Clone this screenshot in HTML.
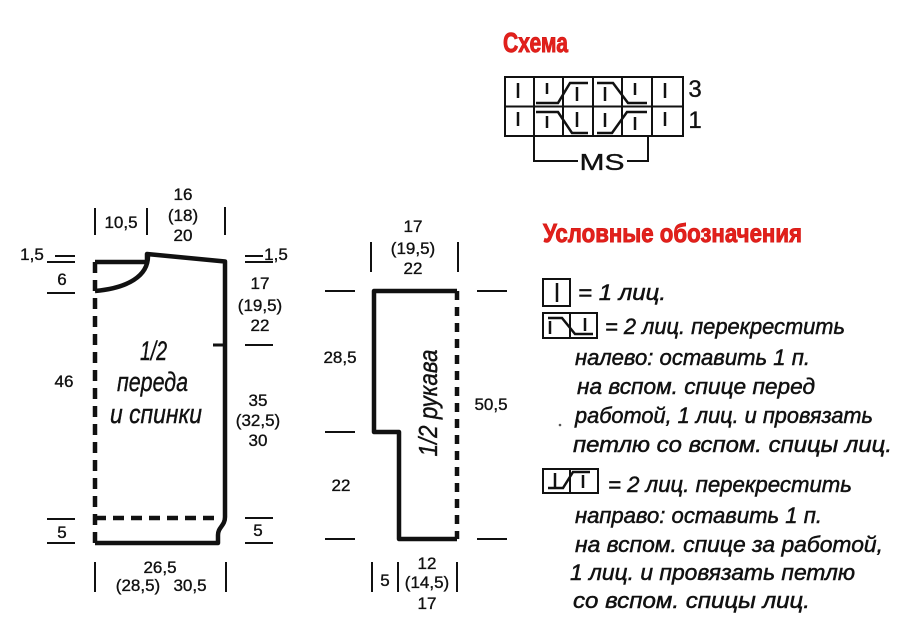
<!DOCTYPE html>
<html>
<head>
<meta charset="utf-8">
<style>
html,body{margin:0;padding:0;background:#fff;}
svg{display:block;}
.n{font-family:"Liberation Sans","DejaVu Sans",sans-serif;font-size:17px;fill:#111;text-anchor:middle;stroke:#111;stroke-width:0.35px;}
.it{font-family:"Liberation Sans","DejaVu Sans",sans-serif;font-style:italic;fill:#111;stroke:#111;stroke-width:0.4px;}
.lg{font-family:"Liberation Sans","DejaVu Sans",sans-serif;font-style:italic;font-size:22.5px;fill:#111;stroke:#111;stroke-width:0.5px;}
.t{font-family:"Liberation Sans","DejaVu Sans",sans-serif;font-weight:bold;fill:#e3211c;stroke:#d81c18;stroke-width:0.9px;}
</style>
</head>
<body>
<svg width="910" height="632" viewBox="0 0 910 632" xmlns="http://www.w3.org/2000/svg">
<rect width="910" height="632" fill="#fff"/>

<!-- ===== Chart ===== -->
<text class="t" x="503" y="52" font-size="28" textLength="65" lengthAdjust="spacingAndGlyphs">Схема</text>
<g stroke="#111" stroke-width="2" fill="none">
  <rect x="505" y="77" width="178" height="59"/>
  <line x1="505" y1="106.5" x2="683" y2="106.5"/>
  <line x1="534" y1="77" x2="534" y2="136"/>
  <line x1="563" y1="77" x2="563" y2="136"/>
  <line x1="593" y1="77" x2="593" y2="136"/>
  <line x1="622" y1="77" x2="622" y2="136"/>
  <line x1="652" y1="77" x2="652" y2="136"/>
</g>
<g stroke="#111" stroke-width="2.5" fill="none">
  <!-- top row -->
  <line x1="518" y1="83" x2="518" y2="98"/>
  <line x1="547" y1="83" x2="547" y2="94"/>
  <polyline points="536,103 558,103 570,83 588,83"/>
  <line x1="577" y1="87" x2="577" y2="101"/>
  <polyline points="597,83 613,83 628,103 647,103"/>
  <line x1="605" y1="87" x2="605" y2="101"/>
  <line x1="635" y1="83" x2="635" y2="95"/>
  <line x1="665" y1="83" x2="665" y2="98"/>
  <!-- bottom row -->
  <line x1="518" y1="112" x2="518" y2="126"/>
  <polyline points="536,112 558,112 572,133 588,133"/>
  <line x1="547" y1="116" x2="547" y2="128"/>
  <line x1="577" y1="112" x2="577" y2="127"/>
  <polyline points="597,133 612,133 627,112 647,112"/>
  <line x1="605" y1="113" x2="605" y2="127"/>
  <line x1="635" y1="117" x2="635" y2="130"/>
  <line x1="665" y1="112" x2="665" y2="126"/>
  <!-- MS bracket -->
  <polyline points="534,136 534,161 578,161" stroke-width="2"/>
  <polyline points="627,161 648,161 648,136" stroke-width="2"/>
</g>
<text class="n" x="602" y="170" style="font-size:23px" textLength="45" lengthAdjust="spacingAndGlyphs">MS</text>
<text class="n" x="695" y="97" style="font-size:24px">3</text>
<text class="n" x="695" y="128" style="font-size:24px">1</text>

<!-- ===== Front/back piece ===== -->
<g stroke="#111" stroke-width="4.5" fill="none" stroke-linejoin="round">
  <path d="M95,262 H147 V254 L225,261.5 V517 C225,526 218,527 218,535 V543 H95"/>
  <path d="M148,256 C148,276 128,288 95,291"/>
  <path d="M95,262 V543" stroke-dasharray="11 7"/>
  <path d="M95,518 H218" stroke-dasharray="11 7"/>
  <line x1="213" y1="345" x2="225" y2="345" stroke-width="3"/>
</g>
<g stroke="#111" stroke-width="2" fill="none">
  <line x1="95" y1="208" x2="95" y2="235"/>
  <line x1="147" y1="208" x2="147" y2="235"/>
  <line x1="225" y1="207" x2="225" y2="235"/>
  <line x1="55" y1="256" x2="75" y2="256"/>
  <line x1="47" y1="262" x2="75" y2="262"/>
  <line x1="47" y1="293" x2="75" y2="293"/>
  <line x1="245" y1="256" x2="263" y2="256"/>
  <line x1="245" y1="262" x2="273" y2="262"/>
  <line x1="245" y1="345" x2="273" y2="345"/>
  <line x1="47" y1="519" x2="75" y2="519"/>
  <line x1="47" y1="543" x2="75" y2="543"/>
  <line x1="245" y1="518" x2="273" y2="518"/>
  <line x1="245" y1="543" x2="273" y2="543"/>
  <line x1="95" y1="562" x2="95" y2="592"/>
  <line x1="226" y1="562" x2="226" y2="592"/>
</g>
<text class="n" x="183" y="200">16</text>
<text class="n" x="183" y="221">(18)</text>
<text class="n" x="183" y="241">20</text>
<text class="n" x="121" y="228">10,5</text>
<text class="n" x="32" y="260">1,5</text>
<text class="n" x="62" y="285">6</text>
<text class="n" x="276" y="260">1,5</text>
<text class="n" x="260" y="289">17</text>
<text class="n" x="260" y="311">(19,5)</text>
<text class="n" x="260" y="331">22</text>
<text class="n" x="64" y="387">46</text>
<text class="n" x="258" y="406">35</text>
<text class="n" x="258" y="426">(32,5)</text>
<text class="n" x="258" y="446">30</text>
<text class="n" x="62" y="538">5</text>
<text class="n" x="258" y="536">5</text>
<text class="n" x="160" y="573">26,5</text>
<text class="n" x="138" y="591">(28,5)</text>
<text class="n" x="190" y="591">30,5</text>
<text class="it" x="140" y="360" font-size="27" textLength="27" lengthAdjust="spacingAndGlyphs">1/2</text>
<text class="it" x="117" y="391" font-size="27" textLength="71" lengthAdjust="spacingAndGlyphs">переда</text>
<text class="it" x="110" y="423" font-size="27" textLength="92" lengthAdjust="spacingAndGlyphs">и спинки</text>

<!-- ===== Sleeve ===== -->
<g stroke="#111" stroke-width="4.5" fill="none" stroke-linejoin="round">
  <path d="M457,291 H374 V432 H399 V539 H457"/>
  <path d="M457,291 V539" stroke-dasharray="9 7"/>
</g>
<g stroke="#111" stroke-width="2" fill="none">
  <line x1="371" y1="242" x2="371" y2="272"/>
  <line x1="458" y1="242" x2="458" y2="272"/>
  <line x1="325" y1="291" x2="355" y2="291"/>
  <line x1="477" y1="291" x2="507" y2="291"/>
  <line x1="325" y1="432" x2="355" y2="432"/>
  <line x1="325" y1="539" x2="355" y2="539"/>
  <line x1="477" y1="539" x2="507" y2="539"/>
  <line x1="372" y1="562" x2="372" y2="592"/>
  <line x1="398" y1="562" x2="398" y2="592"/>
  <line x1="457" y1="562" x2="457" y2="592"/>
</g>
<text class="n" x="413" y="232">17</text>
<text class="n" x="413" y="254">(19,5)</text>
<text class="n" x="413" y="274">22</text>
<text class="n" x="340" y="363">28,5</text>
<text class="n" x="341" y="491">22</text>
<text class="n" x="491" y="410">50,5</text>
<text class="n" x="385" y="586">5</text>
<text class="n" x="427" y="569">12</text>
<text class="n" x="427" y="588">(14,5)</text>
<text class="n" x="427" y="609">17</text>
<text class="it" font-size="26" text-anchor="middle" transform="translate(437,403) rotate(-90)" textLength="107" lengthAdjust="spacingAndGlyphs">1/2 рукава</text>

<!-- ===== Legend ===== -->
<text class="t" x="543" y="242" font-size="26" textLength="259" lengthAdjust="spacingAndGlyphs">Условные обозначения</text>

<g stroke="#111" stroke-width="2" fill="none">
  <rect x="543" y="279" width="27" height="27"/>
  <line x1="557" y1="283" x2="557" y2="302" stroke-width="2.5"/>
  <rect x="543" y="313" width="54" height="25"/>
  <line x1="570" y1="313" x2="570" y2="338"/>
  <polyline points="548,318 562,318 575,334 593,334" stroke-width="2.5"/>
  <line x1="550" y1="321" x2="550" y2="334" stroke-width="2.5"/>
  <line x1="585" y1="318" x2="585" y2="331" stroke-width="2.5"/>
  <rect x="543" y="469" width="55" height="24"/>
  <line x1="570" y1="469" x2="570" y2="493"/>
  <polyline points="548,488 563,488 573,472 590,472" stroke-width="2.5"/>
  <line x1="555" y1="473" x2="555" y2="487" stroke-width="2.5"/>
  <line x1="583" y1="475" x2="583" y2="488" stroke-width="2.5"/>
</g>
<text class="lg" x="578" y="300" textLength="88" lengthAdjust="spacingAndGlyphs">= 1 лиц.</text>
<text class="lg" x="605" y="334" textLength="240" lengthAdjust="spacingAndGlyphs">= 2 лиц. перекрестить</text>
<text class="lg" x="575" y="365" textLength="235" lengthAdjust="spacingAndGlyphs">налево: оставить 1 п.</text>
<text class="lg" x="577" y="394" textLength="238" lengthAdjust="spacingAndGlyphs">на вспом. спице перед</text>
<text class="lg" x="575" y="423" textLength="298" lengthAdjust="spacingAndGlyphs">работой, 1 лиц. и провязать</text>
<text class="lg" x="573" y="452" textLength="319" lengthAdjust="spacingAndGlyphs">петлю со вспом. спицы лиц.</text>
<circle cx="560" cy="425" r="1.3" fill="#555"/>

<text class="lg" x="608" y="492" textLength="244" lengthAdjust="spacingAndGlyphs">= 2 лиц. перекрестить</text>
<text class="lg" x="575" y="523" textLength="247" lengthAdjust="spacingAndGlyphs">направо: оставить 1 п.</text>
<text class="lg" x="575" y="552" textLength="308" lengthAdjust="spacingAndGlyphs">на вспом. спице за работой,</text>
<text class="lg" x="570" y="580" textLength="285" lengthAdjust="spacingAndGlyphs">1 лиц. и провязать петлю</text>
<text class="lg" x="573" y="608" textLength="237" lengthAdjust="spacingAndGlyphs">со вспом. спицы лиц.</text>
</svg>
</body>
</html>
